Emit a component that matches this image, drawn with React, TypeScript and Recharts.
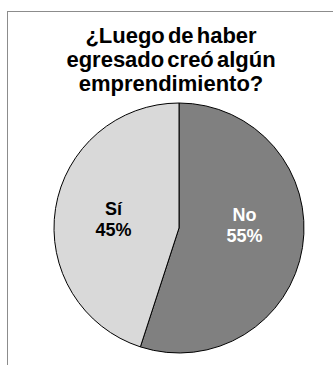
import { PieChart, Pie, Cell } from 'recharts';

const categorias = ['No', 'Sí'];
const porcentajes = [55, 45];
const colores = ['#808080', '#d9d9d9'];
const coloresTexto = ['#ffffff', '#000000'];

const datos = categorias.map((c, i) => ({ name: c, value: porcentajes[i] }));

const RAD = Math.PI / 180;

const Etiqueta = (props: any) => {
    const { cx, cy, midAngle, outerRadius, index, name, value } = props;
    const r = outerRadius * 0.53;
    const x = cx + r * Math.cos(-midAngle * RAD);
    const y = cy + 0.3 * r * Math.sin(-midAngle * RAD);
    return (
        <text
            x={x}
            y={y}
            fill={coloresTexto[index]}
            textAnchor='middle'
            fontFamily='"Liberation Sans", Arial, sans-serif'
            fontWeight='bold'
            fontSize={18}
        >
            <tspan x={x} dy={-10}>{name}</tspan>
            <tspan x={x} dy={21}>{value}%</tspan>
        </text>
    );
};

export default function App() {
    return (
        <div style={{ position: 'absolute', left: 0, top: 0, width: 333, height: 365, background: '#fff', overflow: 'hidden' }}>
            <div style={{ position: 'absolute', left: 7, top: 11, width: 340, height: 370, border: '1px solid #8c8c8c' }} />
            <div
                style={{
                    position: 'absolute',
                    left: 11,
                    top: 24,
                    width: 320,
                    textAlign: 'center',
                    fontFamily: '"Liberation Sans", Arial, sans-serif',
                    fontWeight: 'bold',
                    fontSize: 22,
                    lineHeight: '24px',
                    wordSpacing: -3,
                    color: '#000',
                }}
            >
                ¿Luego de haber<br />egresado creó algún<br />emprendimiento?
            </div>
            <PieChart width={333} height={365} style={{ position: 'absolute', left: 0, top: 0 }}>
                <Pie
                    data={datos}
                    dataKey='value'
                    nameKey='name'
                    cx={174}
                    cy={223}
                    outerRadius={125}
                    startAngle={90}
                    endAngle={-270}
                    stroke='#000'
                    strokeWidth={1}
                    labelLine={false}
                    label={Etiqueta}
                    isAnimationActive={false}
                >
                    {datos.map((d, i) => (
                        <Cell key={d.name} fill={colores[i]} />
                    ))}
                </Pie>
            </PieChart>
        </div>
    );
}
